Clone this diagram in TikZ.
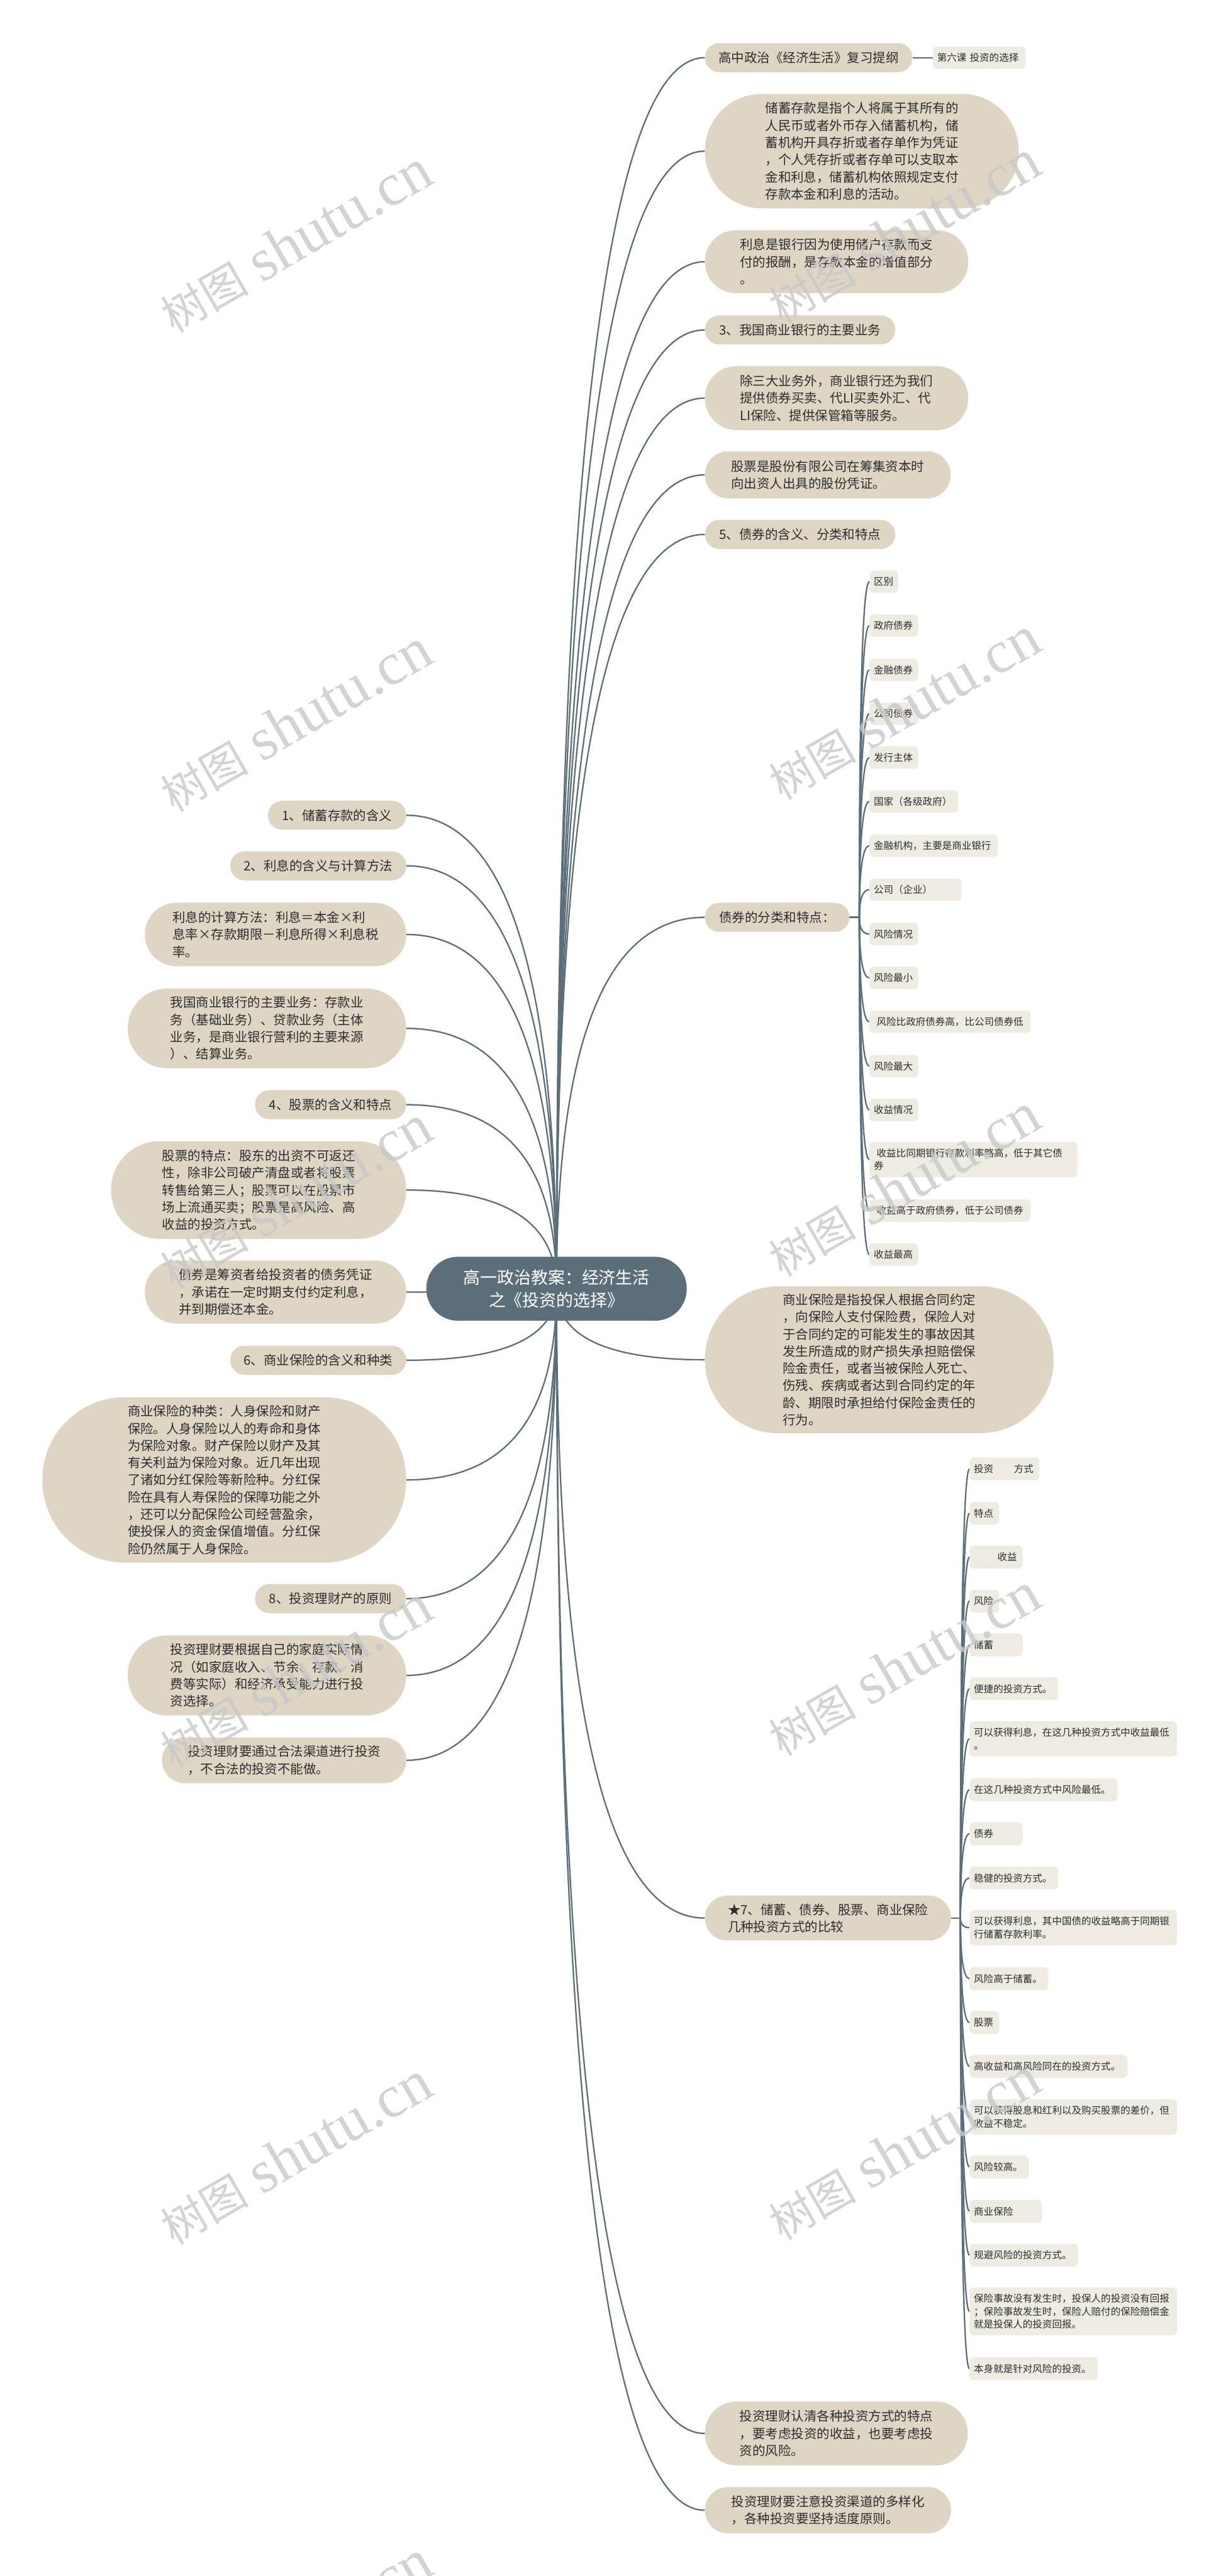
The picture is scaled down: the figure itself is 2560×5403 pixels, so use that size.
\documentclass[tikz,border=0pt]{standalone}
\usepackage{fontspec}
\setmainfont{Noto Sans CJK SC}
\newfontfamily\cjk{Noto Sans CJK SC}
\newfontfamily\wmserif{Liberation Serif}
\usetikzlibrary{calc,backgrounds}
\definecolor{beige}{RGB}{222,213,197}
\definecolor{lightbox}{RGB}{238,235,227}
\definecolor{slate}{RGB}{91,110,122}
\definecolor{ink}{RGB}{45,45,45}
\definecolor{wmgray}{RGB}{200,200,200}
\tikzset{
  mainbox/.style={fill=beige, text=ink, font=\cjk\fontsize{27}{36}\selectfont, align=left, inner sep=0pt},
  subbox/.style={fill=lightbox, text=ink, font=\cjk\fontsize{20.5}{27}\selectfont, align=left, rounded corners=9pt, inner xsep=9pt, inner ysep=0pt, anchor=west},
  link/.style={draw=slate, line width=3pt},
  wmark/.style={text=wmgray, opacity=0.8, rotate=30, anchor=base west, inner sep=0pt}
}
\newcommand\qlink[2]{\draw[link] (#1) .. controls ($(#1)!2/3!(#1|-#2)$) and ($(#2)!2/3!(#1|-#2)$) .. (#2);}
\newcommand\wmtext{{\cjk\fontsize{92}{92}\selectfont 树图}\hspace{28pt}{\wmserif\fontsize{126}{126}\selectfont shutu.cn}}
\begin{document}
\begin{tikzpicture}[x=1pt,y=-1pt]
\useasboundingbox (0,0) rectangle (2560,5403);

% centre
\node[fill=slate, text=white, font=\cjk\fontsize{35.5}{48}\selectfont, align=center, inner sep=0pt,
      minimum width=546, minimum height=134, rounded corners=66pt] (c) at (1167,2703)
      {高一政治教案：经济生活\\之《投资的选择》};

% right side
\node[mainbox, anchor=west, minimum width=435, minimum height=61, rounded corners=30pt] (r1) at (1478,121) {高中政治《经济生活》复习提纲};
\node[subbox, text width=176, minimum height=47] (k1) at (1956,121) {第六课~投资的选择};
\node[mainbox, anchor=west, minimum width=658, minimum height=240, rounded corners=119pt] (r2) at (1478,317)
  {储蓄存款是指个人将属于其所有的\\人民币或者外币存入储蓄机构，储\\蓄机构开具存折或者存单作为凭证\\，个人凭存折或者存单可以支取本\\金和利息，储蓄机构依照规定支付\\存款本金和利息的活动。};
\node[mainbox, anchor=west, minimum width=552, minimum height=132, rounded corners=65pt] (r3) at (1478,549)
  {利息是银行因为使用储户存款而支\\付的报酬，是存款本金的增值部分\\。};
\node[mainbox, anchor=west, minimum width=399, minimum height=61, rounded corners=30pt] (r4) at (1478,692) {3、我国商业银行的主要业务};
\node[mainbox, anchor=west, minimum width=552, minimum height=134, rounded corners=66pt] (r5) at (1478,835)
  {除三大业务外，商业银行还为我们\\提供债券买卖、代LI买卖外汇、代\\LI保险、提供保管箱等服务。};
\node[mainbox, anchor=west, minimum width=515, minimum height=99, rounded corners=49pt] (r6) at (1478,996)
  {股票是股份有限公司在筹集资本时\\向出资人出具的股份凭证。};
\node[mainbox, anchor=west, minimum width=399, minimum height=61, rounded corners=30pt] (r7) at (1478,1121) {5、债券的含义、分类和特点};
\node[mainbox, anchor=west, minimum width=303, minimum height=61, rounded corners=30pt] (r8) at (1478,1924) {债券的分类和特点：};
\node[mainbox, anchor=west, minimum width=731, minimum height=308, rounded corners=153pt] (r9) at (1478,2852)
  {商业保险是指投保人根据合同约定\\，向保险人支付保险费，保险人对\\于合同约定的可能发生的事故因其\\发生所造成的财产损失承担赔偿保\\险金责任，或者当被保险人死亡、\\伤残、疾病或者达到合同约定的年\\龄、期限时承担给付保险金责任的\\行为。};
\node[mainbox, anchor=west, minimum width=516, minimum height=94, rounded corners=46pt] (r10) at (1478,4023)
  {★7、储蓄、债券、股票、商业保险\\几种投资方式的比较};
\node[mainbox, anchor=west, minimum width=551, minimum height=134, rounded corners=66pt] (r11) at (1478,5104)
  {投资理财认清各种投资方式的特点\\，要考虑投资的收益，也要考虑投\\资的风险。};
\node[mainbox, anchor=west, minimum width=516, minimum height=97, rounded corners=48pt] (r12) at (1478,5265)
  {投资理财要注意投资渠道的多样化\\，各种投资要坚持适度原则。};

% left side
\node[mainbox, anchor=east, minimum width=290, minimum height=61, rounded corners=30pt] (l1) at (852,1710) {1、储蓄存款的含义};
\node[mainbox, anchor=east, minimum width=369, minimum height=61, rounded corners=30pt] (l2) at (852,1816) {2、利息的含义与计算方法};
\node[mainbox, anchor=east, minimum width=548, minimum height=133, rounded corners=66pt] (l3) at (852,1960)
  {利息的计算方法：利息＝本金×利\\息率×存款期限－利息所得×利息税\\率。};
\node[mainbox, anchor=east, minimum width=584, minimum height=167, rounded corners=83pt] (l4) at (852,2157)
  {我国商业银行的主要业务：存款业\\务（基础业务）、贷款业务（主体\\业务，是商业银行营利的主要来源\\）、结算业务。};
\node[mainbox, anchor=east, minimum width=317, minimum height=61, rounded corners=30pt] (l5) at (852,2317) {4、股票的含义和特点};
\node[mainbox, anchor=east, minimum width=619, minimum height=205, rounded corners=102pt] (l6) at (852,2496)
  {股票的特点：股东的出资不可返还\\性，除非公司破产清盘或者将股票\\转售给第三人；股票可以在股票市\\场上流通买卖；股票是高风险、高\\收益的投资方式。};
\node[mainbox, anchor=east, minimum width=548, minimum height=132, rounded corners=65pt] (l7) at (852,2710)
  {债券是筹资者给投资者的债务凭证\\，承诺在一定时期支付约定利息，\\并到期偿还本金。};
\node[mainbox, anchor=east, minimum width=369, minimum height=61, rounded corners=30pt] (l8) at (852,2853) {6、商业保险的含义和种类};
\node[mainbox, anchor=east, minimum width=763, minimum height=347, rounded corners=173pt] (l9) at (852,3104)
  {商业保险的种类：人身保险和财产\\保险。人身保险以人的寿命和身体\\为保险对象。财产保险以财产及其\\有关利益为保险对象。近几年出现\\了诸如分红保险等新险种。分红保\\险在具有人寿保险的保障功能之外\\，还可以分配保险公司经营盈余，\\使投保人的资金保值增值。分红保\\险仍然属于人身保险。};
\node[mainbox, anchor=east, minimum width=317, minimum height=61, rounded corners=30pt] (l10) at (852,3353) {8、投资理财产的原则};
\node[mainbox, anchor=east, minimum width=584, minimum height=168, rounded corners=83pt] (l11) at (852,3514)
  {投资理财要根据自己的家庭实际情\\况（如家庭收入、节余、存款、消\\费等实际）和经济承受能力进行投\\资选择。};
\node[mainbox, anchor=east, minimum width=512, minimum height=96, rounded corners=47pt] (l12) at (852,3692)
  {投资理财要通过合法渠道进行投资\\，不合法的投资不能做。};

% bond sub-items
\coordinate (bt) at (1802,1924);
\node[subbox, text width=42, minimum height=47] (b1) at (1823,1220) {区别};
\node[subbox, text width=84, minimum height=47] (b2) at (1823,1312) {政府债券};
\node[subbox, text width=84, minimum height=47] (b3) at (1823,1405) {金融债券};
\node[subbox, text width=84, minimum height=47] (b4) at (1823,1497) {公司债券};
\node[subbox, text width=84, minimum height=47] (b5) at (1823,1589) {发行主体};
\node[subbox, text width=168, minimum height=47] (b6) at (1823,1681) {国家（各级政府）};
\node[subbox, text width=251, minimum height=47] (b7) at (1823,1774) {金融机构，主要是商业银行};
\node[subbox, text width=175, minimum height=47] (b8) at (1823,1866) {公司（企业）};
\node[subbox, text width=84, minimum height=47] (b9) at (1823,1959) {风险情况};
\node[subbox, text width=84, minimum height=47] (b10) at (1823,2051) {风险最小};
\node[subbox, text width=320, minimum height=47] (b11) at (1823,2143) {\hspace*{0.3em}风险比政府债券高，比公司债券低};
\node[subbox, text width=84, minimum height=47] (b12) at (1823,2236) {风险最大};
\node[subbox, text width=84, minimum height=47] (b13) at (1823,2328) {收益情况};
\node[subbox, text width=418, minimum height=74] (b14) at (1823,2432) {\hspace*{0.3em}收益比同期银行存款利率略高，低于其它债\\券};
\node[subbox, text width=320, minimum height=47] (b15) at (1823,2539) {\hspace*{0.3em}收益高于政府债券，低于公司债券};
\node[subbox, text width=84, minimum height=47] (b16) at (1823,2631) {收益最高};

% comparison sub-items
\coordinate (st) at (2014,4023);
\node[subbox, text width=128, minimum height=48] (s1) at (2033,3081) {投资\hspace{2.1em}方式};
\node[subbox, text width=44, minimum height=48] (s2) at (2033,3174) {特点};
\node[subbox, text width=93, minimum height=48] (s3) at (2033,3266) {\hspace*{2.4em}收益};
\node[subbox, text width=44, minimum height=48] (s4) at (2033,3358) {风险};
\node[subbox, text width=93, minimum height=48] (s5) at (2033,3450) {储蓄};
\node[subbox, text width=168, minimum height=48] (s6) at (2033,3542) {便捷的投资方式。};
\node[subbox, text width=417, minimum height=74] (s7) at (2033,3647) {可以获得利息，在这几种投资方式中收益最低\\。};
\node[subbox, text width=292, minimum height=48] (s8) at (2033,3754) {在这几种投资方式中风险最低。};
\node[subbox, text width=93, minimum height=48] (s9) at (2033,3846) {债券};
\node[subbox, text width=168, minimum height=48] (s10) at (2033,3939) {稳健的投资方式。};
\node[subbox, text width=417, minimum height=74] (s11) at (2033,4043) {可以获得利息，其中国债的收益略高于同期银\\行储蓄存款利率。};
\node[subbox, text width=147, minimum height=48] (s12) at (2033,4150) {风险高于储蓄。};
\node[subbox, text width=44, minimum height=48] (s13) at (2033,4242) {股票};
\node[subbox, text width=313, minimum height=48] (s14) at (2033,4334) {高收益和高风险同在的投资方式。};
\node[subbox, text width=417, minimum height=74] (s15) at (2033,4440) {可以获得股息和红利以及购买股票的差价，但\\收益不稳定。};
\node[subbox, text width=106, minimum height=48] (s16) at (2033,4545) {风险较高。};
\node[subbox, text width=134, minimum height=48] (s17) at (2033,4638) {商业保险};
\node[subbox, text width=209, minimum height=48] (s18) at (2033,4730) {规避风险的投资方式。};
\node[subbox, text width=417, minimum height=100] (s19) at (2033,4848) {保险事故没有发生时，投保人的投资没有回报\\；保险事故发生时，保险人赔付的保险赔偿金\\就是投保人的投资回报。};
\node[subbox, text width=251, minimum height=48] (s20) at (2033,4968) {本身就是针对风险的投资。};

\begin{scope}[on background layer]
  \fill[white] (0,0) rectangle (2560,5403);
  \foreach \n in {r1,r2,r3,r4,r5,r6,r7,r8,r9,r10,r11,r12} {\qlink{c.center}{\n.west}}
  \foreach \n in {l1,l2,l3,l4,l5,l6,l7,l8,l9,l10,l11,l12} {\qlink{c.center}{\n.east}}
  \draw[link] (r1.east) -- (k1.west);
  \draw[link] (r8.east) -- (bt);
  \foreach \i in {1,...,16} {\qlink{bt}{b\i.west}}
  \draw[link] (r10.east) -- (st);
  \foreach \i in {1,...,20} {\qlink{st}{s\i.west}}
\end{scope}

% watermarks
\foreach \k/\yl/\yr in {0/700/680,1/1705/1680,2/2705/2680,3/3710/3685,4/4710/4700} {
  \node[wmark] (wl\k) at (365,\yl) {\wmtext};
  \node[wmark] (wr\k) at (1640,\yr) {\wmtext};
}
\node[wmark] (wl5) at (365,5715) {\wmtext};
\end{tikzpicture}
\end{document}
